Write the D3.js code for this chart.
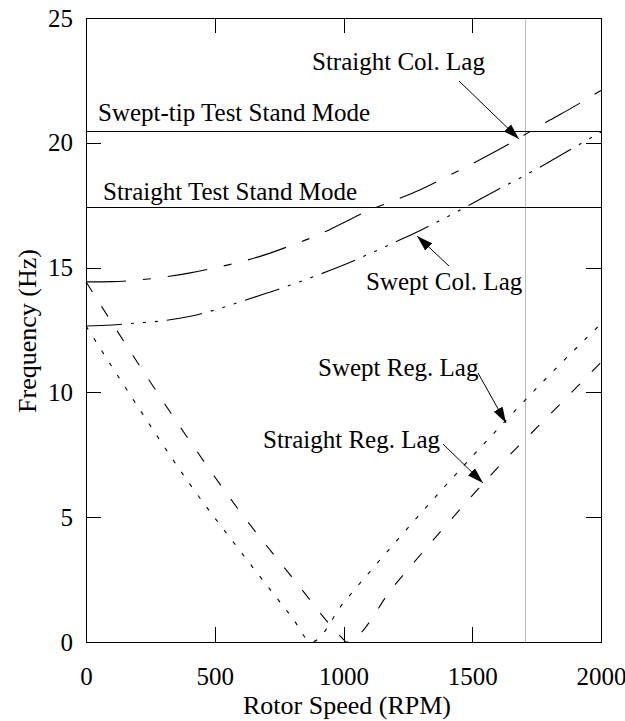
<!DOCTYPE html>
<meta charset="utf-8">
<style>
body { margin: 0; background: #fff; }
svg { font-family: "Liberation Serif", serif; }
.axis path, .axis line { stroke: #000; shape-rendering: crispEdges; }
.axis text { font-size: 25px; fill: #000; font-family: "Liberation Serif", serif; }
.note { font-size: 25px; fill: #000; }
.title { font-size: 26px; fill: #000; }
.curve { fill: none; stroke: #000; stroke-width: 1.1; }
</style>
<body>
<script src="https://cdn.jsdelivr.net/npm/d3@7"></script>
<script>
var w = 625, h = 721;

// rotor speed samples (RPM)
var rpm = [0, 100, 200, 300, 400, 500, 600, 700, 800, 900, 1000,
           1100, 1200, 1300, 1400, 1500, 1600, 1700, 1800, 1900, 2000];

// collective lag modes (Hz)
var straightCol = [14.43, 14.44, 14.5, 14.62, 14.78, 14.99, 15.23, 15.53, 15.9, 16.3, 16.8,
                   17.3, 17.7, 18.13, 18.64, 19.16, 19.71, 20.3, 20.9, 21.48, 22.1];
var sweptCol = [12.66, 12.7, 12.78, 12.87, 13.04, 13.3, 13.63, 13.97, 14.32, 14.7, 15.1,
                15.55, 16.02, 16.5, 17.02, 17.57, 18.13, 18.67, 19.24, 19.84, 20.43];

// regressive lag modes (Hz)
var straightRegRpm = [0, 200, 400, 600, 800, 1000, 1010, 1200, 1400, 1600, 1800, 2000];
var straightReg = [14.43, 11.2, 8.1, 5.2, 2.6, 0.1, 0, 2.3, 4.7, 7.0, 9.1, 11.2];
var sweptRegRpm = [0, 200, 400, 600, 800, 876, 1000, 1200, 1400, 1600, 1800, 2000];
var sweptReg = [12.66, 9.45, 6.37, 3.63, 0.99, 0, 1.57, 3.98, 6.31, 8.54, 10.7, 12.75];

// test stand modes (Hz) and operating speed (RPM)
var sweptStand = 20.47, straightStand = 17.39, opSpeed = 1707;

var xTicks = [0, 500, 1000, 1500, 2000],
    yTicks = [0, 5, 10, 15, 20, 25];

var pLeft = 86, pRight = 601, pTop = 18, pBottom = 642;

var x = d3.scaleLinear().domain([0, 2000]).range([pLeft, pRight]),
    y = d3.scaleLinear().domain([0, 25]).range([pBottom, pTop]);

var svg = d3.select("body").append("svg")
    .attr("width", w)
    .attr("height", h);

svg.append("defs").append("marker")
    .attr("id", "head")
    .attr("viewBox", "0 0 16 10")
    .attr("refX", 16).attr("refY", 5)
    .attr("markerWidth", 16).attr("markerHeight", 10)
    .attr("markerUnits", "userSpaceOnUse")
    .attr("orient", "auto")
  .append("path")
    .attr("d", "M0,0 L16,5 L0,10 Z")
    .attr("fill", "#000");

/* operating speed */
svg.append("line")
    .attr("x1", x(opSpeed)).attr("x2", x(opSpeed))
    .attr("y1", y(0)).attr("y2", y(25))
    .attr("stroke", "#bbb")
    .attr("shape-rendering", "crispEdges");

/* axes, ticks inward */
var fmt = d3.format("d");
svg.append("g").attr("class", "axis")
    .attr("transform", "translate(0," + pBottom + ")")
    .call(d3.axisBottom(x).tickValues(xTicks).tickFormat(fmt).tickSize(-15).tickPadding(25).tickSizeOuter(0));
svg.append("g").attr("class", "axis")
    .attr("transform", "translate(0," + pTop + ")")
    .call(d3.axisTop(x).tickValues(xTicks).tickSize(-15).tickFormat("").tickSizeOuter(0));
svg.append("g").attr("class", "axis")
    .attr("transform", "translate(" + pLeft + ",0)")
    .call(d3.axisLeft(y).tickValues(yTicks).tickFormat(fmt).tickSize(-15).tickPadding(13).tickSizeOuter(0));
svg.append("g").attr("class", "axis")
    .attr("transform", "translate(" + pRight + ",0)")
    .call(d3.axisRight(y).tickValues(yTicks).tickSize(-15).tickFormat("").tickSizeOuter(0));

/* test stand modes */
[sweptStand, straightStand].forEach(function(f) {
  svg.append("line")
      .attr("x1", x(0)).attr("x2", x(2000))
      .attr("y1", y(f)).attr("y2", y(f))
      .attr("stroke", "#000")
      .attr("shape-rendering", "crispEdges");
});

var line = d3.line()
    .x(function(d) { return x(d[0]); })
    .y(function(d) { return y(d[1]); })
    .curve(d3.curveMonotoneX);

function curve(xs, ys, dash) {
  svg.append("path")
      .datum(xs.map(function(r, i) { return [r, ys[i]]; }))
      .attr("class", "curve")
      .attr("stroke-dasharray", dash)
      .attr("d", line);
}

curve(rpm, straightCol, "40,17,8,17");
curve(rpm, sweptCol, "36,9,3,9,3,9,3,9");
curve(straightRegRpm, straightReg, "12,17");
curve(sweptRegRpm, sweptReg, "4,10.5");

/* labels */
function note(txt, tx, ty) {
  svg.append("text").attr("class", "note")
      .attr("x", tx).attr("y", ty).text(txt);
}
function arrow(x1, y1, x2, y2) {
  svg.append("line")
      .attr("x1", x1).attr("y1", y1).attr("x2", x2).attr("y2", y2)
      .attr("stroke", "#000")
      .attr("marker-end", "url(#head)");
}

note("Straight Col. Lag", 312, 70);
arrow(459, 81, 519, 139);
note("Swept-tip Test Stand Mode", 98, 121);
note("Straight Test Stand Mode", 103, 200);
note("Swept Col. Lag", 366, 290);
arrow(449, 266, 417, 236);
note("Swept Reg. Lag", 318, 376);
arrow(478, 373, 506, 423);
note("Straight Reg. Lag", 263, 448);
arrow(443, 444, 483, 483);

svg.append("text")
    .attr("class", "title")
    .attr("x", 347)
    .attr("y", 714)
    .attr("text-anchor", "middle")
    .text("Rotor Speed (RPM)");

svg.append("text")
    .attr("class", "title")
    .attr("transform", "translate(36," + 331 + ") rotate(-90)")
    .attr("text-anchor", "middle")
    .text("Frequency (Hz)");
</script>
</body>
